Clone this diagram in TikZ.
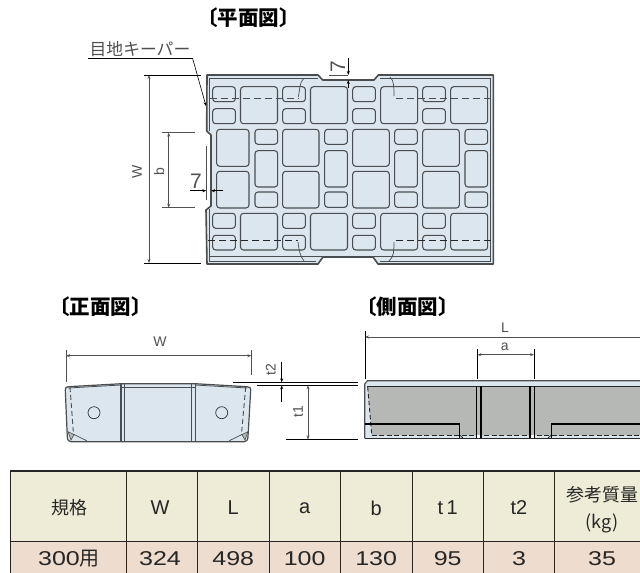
\documentclass[tikz,border=0pt]{standalone}
\usepackage{fontspec}
\usetikzlibrary{arrows.meta}
\setmainfont{Noto Sans CJK JP}
\newfontfamily\digitfont[FakeStretch=1.25]{Liberation Sans}
\newfontfamily\letterfont{Liberation Sans}
\definecolor{plate}{HTML}{DCE6EE}
\definecolor{edgegray}{HTML}{4A4E50}
\definecolor{dimgray}{HTML}{505050}
\definecolor{sidegray}{HTML}{B6B8B6}
\definecolor{headfill}{HTML}{EEEBD6}
\definecolor{rowfill}{HTML}{EEDDCF}
\tikzset{
  blockbox/.style={draw=edgegray,line width=1.05pt,rounded corners=3pt,fill=plate},
  outline/.style={draw=edgegray,line width=1.6pt,line join=round},
  rim/.style={draw=edgegray,line width=0.8pt},
  dashline/.style={draw=edgegray,line width=0.9pt,dash pattern=on 7pt off 4pt},
  dimline/.style={draw=dimgray,line width=0.8pt,{Stealth[length=4pt,width=3pt]}-{Stealth[length=4pt,width=3pt]}},
  arrowone/.style={draw=black,line width=0.6pt,-{Stealth[length=4pt,width=3pt]}},
  extline/.style={draw=black,line width=0.7pt},
  dimtext/.style={text=dimgray,font=\letterfont\fontsize{14}{14}\selectfont,inner sep=0pt},
  seventext/.style={text=dimgray,font=\letterfont\fontsize{21}{21}\selectfont,inner sep=0pt},
  titletext/.style={font=\bfseries\fontsize{20.5}{20.5}\selectfont,inner sep=0pt},
  tablecell/.style={font=\fontsize{18}{18}\selectfont,inner sep=0pt,text=black!85},
  tablenum/.style={font=\digitfont\fontsize{20}{20}\selectfont,inner sep=0pt,text=black!85},
  tablehead/.style={font=\letterfont\fontsize{20}{20}\selectfont,inner sep=0pt,text=black!85},
  tablegrid/.style={draw=black!85,line width=0.8pt}
}
\newcommand{\blk}[4]{\path[blockbox] (#1,#2) rectangle (#3,#4);}
\begin{document}
\begin{tikzpicture}[x=1pt,y=-1pt]
\useasboundingbox (0,0) rectangle (640,573);
% ---------- titles
\node[titletext] (tplan) at (248.5,18) {〔平面図〕};
\node[titletext] (tfront) at (100.5,306.5) {〔正面図〕};
\node[titletext] (tside) at (407.5,306.5) {〔側面図〕};
% ---------- plan plate
\path[outline,fill=plate] (207,75) -- (318,75) -- (322.7,80) -- (374,80) -- (378.3,75) -- (493.3,75)
  -- (493.3,264) -- (378,264) -- (373,257) -- (323,257) -- (318,264) -- (207,264)
  -- (206,210) -- (211,206) -- (211,135) -- (206.7,131) -- cycle;
\draw[rim] (209.5,131) -- (209.5,78) -- (318,78);
\draw[rim] (380,78) -- (490,78) -- (490,261) -- (380,261);
\draw[rim] (209.5,209) -- (209.5,261) -- (316,261);
\draw[rim] (209.5,256.5) -- (490,256.5);
% blocks: outer rows
\foreach \ya/\yb in {86.7/101.7,108.7/123.7,213.3/228.3,235.3/250}{
  \foreach \xa in {212.7,282.7,352.7,422.7}{
    \pgfmathsetmacro{\xb}{\xa+22.7}
    \blk{\xa}{\ya}{\xb}{\yb}
  }
}
\foreach \ya/\yb in {86.7/123.7,213.3/250}{
  \foreach \xa in {240.5,310.5,380.7,450.7}{
    \pgfmathsetmacro{\xb}{\xa+37}
    \blk{\xa}{\ya}{\xb}{\yb}
  }
}
% blocks: middle rows
\foreach \xa/\xb in {216.7/249,282.7/319,352.7/389.3,422.7/459.3}{
  \blk{\xa}{129.3}{\xb}{166.3}
  \blk{\xa}{171.3}{\xb}{208}
}
\foreach \xa in {255,324.7,394.7,465}{
  \pgfmathsetmacro{\xb}{\xa+22.7}
  \blk{\xa}{129.3}{\xb}{144.3}
  \blk{\xa}{150.7}{\xb}{187}
  \blk{\xa}{192}{\xb}{207.3}
}
% dashed hidden lines
\draw[dashline] (210,98.3) -- (298.3,98.3);
\draw[draw=edgegray,line width=0.7pt] (298.3,97) .. controls (300,90) and (299,83) .. (304,78);
\draw[dashline] (396,98) -- (493,98);
\draw[draw=edgegray,line width=0.7pt] (394,96) .. controls (394,88) and (394,80) .. (390,77);
\draw[dashline,draw=black!85] (208,240.3) -- (298,240.3);
\draw[draw=edgegray,line width=0.7pt] (298,242) .. controls (299,250) and (300,256) .. (304,261);
\draw[dashline,draw=black!85] (396,240.3) -- (493,240.3);
\draw[draw=edgegray,line width=0.7pt] (394,242) .. controls (394,250) and (394,257) .. (389,261);
% label and leader
\node[inner sep=0pt,text=dimgray,font=\fontsize{16.8}{16.8}\selectfont] (lbl) at (140,49) {目地キーパー};
\coordinate (lblA) at (88,58.7);
\coordinate (lblB) at (192.7,58.7);
\coordinate (lblC) at (206,106);
\draw[extline] (lblA) -- (lblB);
\draw[arrowone] (lblB) -- (lblC);
% W and b dimensions
\coordinate (wT) at (149,75); \coordinate (wB) at (149,263);
\draw[dimline] (wT) -- (wB);
\draw[extline] (144,75) -- (201,75);
\draw[extline] (144,263) -- (201,263);
\node[dimtext,rotate=90] (wlab) at (137,172) {W};
\coordinate (bT) at (168.7,132.7); \coordinate (bB) at (168.7,207.7);
\draw[dimline] (bT) -- (bB);
\draw[extline,draw=dimgray] (162,132.7) -- (195,132.7);
\draw[extline,draw=dimgray] (162,207.7) -- (195,207.7);
\node[dimtext,rotate=90] (blab) at (159,172) {b};
% 7 dims
\draw[arrowone] (348.3,58) -- (348.3,75);
\draw[arrowone] (348.3,88) -- (348.3,80);
\draw[extline,draw=dimgray] (329,75) -- (348,75);
\node[seventext,rotate=90] (seven1) at (338,66.5) {7};
\draw[arrowone] (190,190.7) -- (206.3,190.7);
\draw[arrowone] (223,190.7) -- (211,190.7);
\draw[extline,draw=dimgray] (206.3,146) -- (206.3,200);
\node[seventext] (seven2) at (196,181) {7};
% ---------- front view
\path[outline,line width=1.2pt,fill=plate] (68,386.7) -- (121.7,383.7) -- (195,383.7) -- (247,386.7)
  .. controls (250,386.7) and (251,388) .. (250.7,390) -- (248,437) .. controls (247.8,440.5) and (246,441.7) .. (244,441.7)
  -- (71,441.7) .. controls (69,441.7) and (67.5,440.5) .. (67.3,437) -- (65.3,390) .. controls (65.2,388) and (66,386.7) .. (68,386.7) -- cycle;
\draw[rim] (68,388) -- (121,385);
\draw[rim] (121,387) -- (195,387);
\draw[rim] (195,385) -- (247,388);
\path[fill=sidegray,draw=edgegray,line width=0.6pt] (68,431.7) -- (74,434.5) -- (71,440) -- cycle;
\path[fill=sidegray,draw=edgegray,line width=0.6pt] (248,431.7) -- (242,434.5) -- (245,440) -- cycle;
\draw[draw=edgegray,line width=0.7pt] (74,434.5) -- (86.7,440.7) (242,434.5) -- (229.3,440.7);
\draw[draw=edgegray,line width=1.1pt] (121,384) -- (121,441.5) (124.3,384) -- (124.3,441.5);
\draw[draw=edgegray,line width=1.1pt] (191.7,384) -- (191.7,441.5) (195.6,384) -- (195.6,441.5);
\draw[dashline,dash pattern=on 5pt off 3pt] (70,387) -- (73.3,431.7);
\draw[dashline,dash pattern=on 5pt off 3pt] (245.7,387) -- (241.7,431.7);
\node[draw=black!80,line width=0.7pt,circle,minimum size=12pt,inner sep=0pt] (holeL) at (94,412.7) {};
\node[draw=black!80,line width=0.7pt,circle,minimum size=12pt,inner sep=0pt] (holeR) at (221.7,412.7) {};
% front dims
\coordinate (fwL) at (66,355.7); \coordinate (fwR) at (251.3,355.7);
\draw[dimline] (fwL) -- (fwR);
\draw[extline,draw=dimgray] (66,350) -- (66,381.7);
\draw[extline,draw=dimgray] (251.3,350) -- (251.3,375);
\node[dimtext] (fwlab) at (160,342) {W};
\draw[extline] (233,382.3) -- (358,382.3);
\draw[extline] (256.7,385.3) -- (358,385.3);
\draw[extline] (286,439.5) -- (358,439.5);
\draw[arrowone] (281.7,361.7) -- (281.7,382.3);
\draw[arrowone] (281.7,401.7) -- (281.7,385.3);
\node[dimtext,rotate=90] (t2lab) at (270.7,370) {t2};
\coordinate (t1T) at (308,385.3); \coordinate (t1B) at (308,439.5);
\draw[dimline] (t1T) -- (t1B);
\node[dimtext,rotate=90] (t1lab) at (298,411.7) {t1};
% ---------- side view
\fill[plate] (364.7,383) -- (367,380.7) -- (640,380.7) -- (640,438.3) -- (364.7,438.3) -- cycle;
\fill[sidegray] (367.7,386.7) -- (640,386.7) -- (640,435.3) -- (371.7,435.3) -- cycle;
\draw[draw=edgegray,line width=1.1pt] (364.7,438.3) -- (364.7,384) -- (367.5,380.7) -- (640,380.7);
\draw[draw=black!85,line width=1pt] (367,386.7) -- (640,386.7);
\draw[draw=black!85,line width=1pt] (364.7,438.3) -- (640,438.3);
\draw[dashline,draw=black!85,dash pattern=on 5pt off 2.5pt] (371.7,435.5) -- (640,435.5);
\draw[dashline,draw=black!85,dash pattern=on 4.5pt off 2.5pt] (367.7,387) -- (371.7,435);
\draw[draw=black,line width=1.2pt] (364.7,424) -- (459.3,424) -- (459.3,438);
\draw[draw=black,line width=1.2pt] (640,424) -- (551.7,424) -- (551.7,438);
\draw[draw=black,line width=0.6pt] (459.5,435) -- (463,438);
\draw[draw=black,line width=0.6pt] (551.5,435) -- (548,438);
\foreach \xa/\xb in {476.7/481,530/534.3}{
  \path[fill=white,draw=none] (\xa,387) rectangle (\xb,438);
  \path[fill=sidegray,draw=none] (\xa,387) rectangle (\xb,435);
  \draw[draw=black,line width=1.2pt] (\xa,386) -- (\xa,438);
  \draw[draw=black,line width=1.2pt] (\xb,386) -- (\xb,438);
}
% side dims
\coordinate (sLL) at (365,337); \coordinate (sLR) at (640,337);
\draw[draw=dimgray,line width=0.7pt,{Stealth[length=4pt,width=3pt]}-] (sLL) -- (sLR);
\draw[extline] (365,330.7) -- (365,379.3);
\node[dimtext] (slab) at (505,328) {L};
\coordinate (saL) at (477.3,354.7); \coordinate (saR) at (534,354.7);
\draw[dimline] (saL) -- (saR);
\draw[extline] (477.3,349.3) -- (477.3,378.7);
\draw[extline] (534,349.3) -- (534,378.7);
\node[dimtext] (salab) at (504.7,346.7) {a};
% ---------- table
\fill[headfill] (10.7,471) rectangle (640,541.3);
\fill[rowfill] (10.7,541.3) rectangle (640,573);
\draw[tablegrid,line width=1.3pt] (10.7,573) -- (10.7,471) -- (640,471);
\draw[tablegrid] (10.7,541.3) -- (640,541.3);
\foreach \xx in {126.7,197.7,269,340.5,412,483.3,554.7}{
  \draw[tablegrid] (\xx,471) -- (\xx,573);
}
\node[tablecell] (h1) at (69,508) {規格};
\node[tablehead] (h2) at (160,508) {W};
\node[tablehead] (h3) at (233.3,508) {L};
\node[tablehead] (h4) at (304.7,508) {a};
\node[tablehead] (h5) at (376.2,508) {b};
\node[tablehead] (h6) at (447.7,508) {t\,1};
\node[tablehead] (h7) at (519,508) {t2};
\node[tablecell] (h8) at (602,494.7) {参考質量};
\node[tablecell] (h8b) at (602,523.7) {(kg)};
\node[tablenum] (c1) at (69,559) {300{\normalfont 用}};
\node[tablenum] (c2) at (160,559) {324};
\node[tablenum] (c3) at (233.3,559) {498};
\node[tablenum] (c4) at (304.7,559) {100};
\node[tablenum] (c5) at (376.2,559) {130};
\node[tablenum] (c6) at (447.7,559) {95};
\node[tablenum] (c7) at (519,559) {3};
\node[tablenum] (c8) at (602,559) {35};
\end{tikzpicture}
\end{document}
